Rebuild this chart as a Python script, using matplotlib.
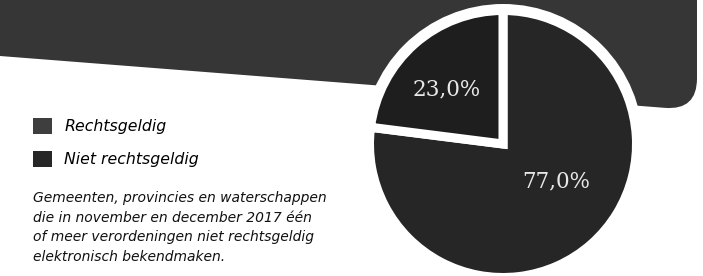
import matplotlib
matplotlib.use("Agg")
import matplotlib.pyplot as plt
from matplotlib.patches import Circle, PathPatch, Patch
from matplotlib.path import Path

# data
labels = ["Rechtsgeldig", "Niet rechtsgeldig"]
values = [77.0, 23.0]
wedge_colors = ["#262626", "#1e1e1e"]
legend_colors = ["#3e3e3e", "#272727"]
caption = ("Gemeenten, provincies en waterschappen\n"
           "die in november en december 2017 één\n"
           "of meer verordeningen niet rechtsgeldig\n"
           "elektronisch bekendmaken.")

W, H = 703, 276
fig = plt.figure(figsize=(W / 100, H / 100), dpi=100)
ax = fig.add_axes([0, 0, 1, 1])

# dark band at the top, slanted bottom edge with a rounded right corner
y0, slope = 220, -0.078
R = 32
xr = 697
band = Path(
    [(-5, y0 + 5 * 0.078), (-5, H + 5), (xr, H + 5), (xr, y0 + slope * xr + R),
     (xr, y0 + slope * xr), (xr - R, y0 + slope * (xr - R)), (-5, y0 + 5 * 0.078)],
    [Path.MOVETO, Path.LINETO, Path.LINETO, Path.LINETO,
     Path.CURVE3, Path.CURVE3, Path.CLOSEPOLY])
ax.add_patch(PathPatch(band, fc="#363636", ec="none", zorder=0))

# pie
cx, cy = 503, 132
lw = 6.5
r = 129 + lw * 100 / 72 / 2
ax.add_patch(Circle((cx, cy), 140, fc="white", ec="none", zorder=1))
wedges, _ = ax.pie(values, colors=wedge_colors, startangle=90, counterclock=False,
                   radius=r, center=(cx, cy),
                   wedgeprops=dict(edgecolor="white", linewidth=lw))
for w in wedges:
    w.set_zorder(2)

label_pos = [(556, 95), (447, 187)]
for v, (x, y) in zip(values, label_pos):
    ax.text(x, y, f"{v:.1f}%".replace(".", ","), color="#e8e8e8",
            family="DejaVu Serif", fontsize=15.5, ha="center", va="center", zorder=3)

# legend
handles = [Patch(fc=c, ec="none") for c in legend_colors]
ax.legend(handles, labels, loc="upper left", bbox_to_anchor=(33 / W, 1 - 118 / H),
          bbox_transform=fig.transFigure, frameon=False, borderpad=0, borderaxespad=0,
          prop=dict(family="DejaVu Sans", style="italic", size=11.3),
          handlelength=1.2, handleheight=1.2, handletextpad=0.8, labelspacing=1.05)

ax.text(33, H - 191, caption, family="DejaVu Sans", style="italic", fontsize=10,
        color="#111111", ha="left", va="top", linespacing=1.52)

ax.set_xlim(0, W)
ax.set_ylim(0, H)
ax.set_aspect("auto")
ax.axis("off")

fig.savefig("out.png", dpi=100)
